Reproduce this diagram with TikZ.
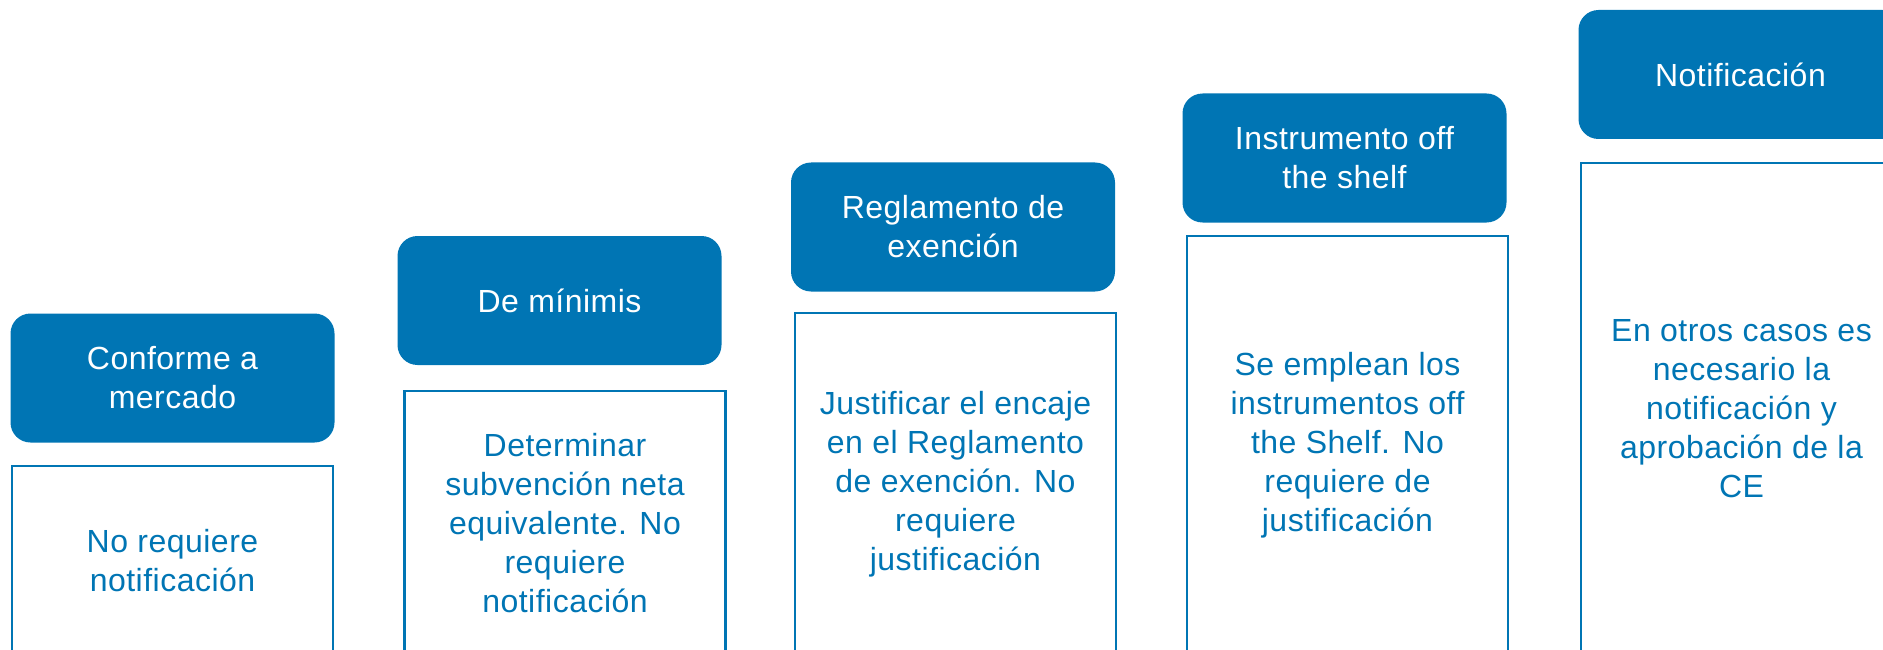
\documentclass[tikz,border=0pt]{standalone}
\usepackage{fontspec}
\setmainfont[LetterSpace=1.5]{Liberation Sans}
\definecolor{azul}{RGB}{0,117,180}

\begin{document}
\begin{tikzpicture}[x=1pt,y=-1pt,
    cabecera/.style={fill=azul,draw=none,rounded corners=20pt,minimum width=324pt,minimum height=129pt,text=white,align=center,font=\fontsize{32}{39}\selectfont},
    cuerpo/.style={draw=azul,line width=2.5pt,minimum width=321pt,text=azul,align=center,font=\fontsize{32}{39}\selectfont}]
        \useasboundingbox(0,0)rectangle(1883,650);
        \clip(0,0)rectangle(1883,650);

        \node[cabecera](cab1)at(172.5,378){Conforme a\\mercado};
        \node[cuerpo,minimum height=190pt](txt1)at(172.5,561){No requiere\\notificación};

        \node[cabecera](cab2)at(559.5,300.5){De mínimis};
        \node[cuerpo,minimum height=264pt](txt2)at(565,523){Determinar\\subvención neta\\equivalente. No\\requiere\\notificación};

        \node[cabecera](cab3)at(953,227){Reglamento de\\exención};
        \node[cuerpo,minimum height=342pt](txt3)at(955.5,484){Justificar el encaje\\en el Reglamento\\de exención. No\\requiere\\justificación};

        \node[cabecera](cab4)at(1344.5,158){Instrumento off\\the shelf};
        \node[cuerpo,minimum height=419pt](txt4)at(1347.5,445.5){Se emplean los\\instrumentos off\\the Shelf. No\\requiere de\\justificación};

        \node[cabecera](cab5)at(1740.5,74.5){Notificación};
        \node[cuerpo,minimum height=492pt](txt5)at(1741.5,409){En otros casos es\\necesario la\\notificación y\\aprobación de la\\CE};
    \end{tikzpicture}
\end{document}
